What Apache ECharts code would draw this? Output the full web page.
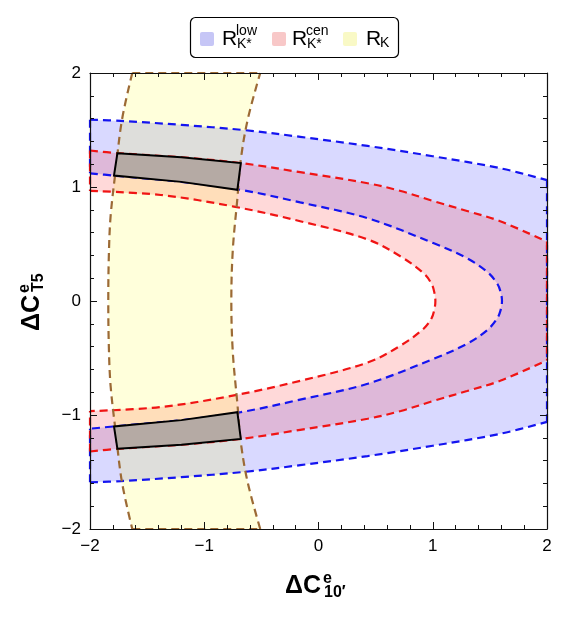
<!DOCTYPE html>
<html>
<head>
<meta charset="utf-8">
<script src="https://cdn.jsdelivr.net/npm/echarts/dist/echarts.min.js"></script>
<style>
  html, body { margin: 0; padding: 0; background: #fff; }
  #main { width: 571px; height: 617px; }
</style>
</head>
<body>
<div id="main"></div>
<script>
// 坐标轴刻度
var axisTicks = [-2, -1, 0, 1, 2];

// R_K*^low 边界 (蓝)
var blueOuterUpper = [[-2, 1.59], [-1.73, 1.58], [-1.2, 1.545], [-0.66, 1.50], [-0.16, 1.44], [0.43, 1.36], [1.0, 1.27], [1.59, 1.165], [2, 1.06]];
var blueOuterLower = [[-2, -1.59], [-1.73, -1.58], [-1.2, -1.545], [-0.66, -1.50], [-0.16, -1.44], [0.43, -1.36], [1.0, -1.27], [1.59, -1.165], [2, -1.06]];
var blueInnerUpper = [[-2, 1.12], [-1.79, 1.10], [-1.2, 1.045], [-0.68, 0.975], [-0.16, 0.865], [0.43, 0.726], [1.01, 0.506], [1.30, 0.375], [1.475, 0.257], [1.563, 0.155], [1.594, 0.08], [1.606, 0]];
var blueInnerLower = [[-2, -1.12], [-1.79, -1.10], [-1.2, -1.045], [-0.68, -0.975], [-0.16, -0.865], [0.43, -0.726], [1.01, -0.506], [1.30, -0.375], [1.475, -0.257], [1.563, -0.155], [1.594, -0.08], [1.606, 0]];

// R_K*^cen 边界 (红)
var redOuterUpper = [[-2, 1.32], [-1.76, 1.297], [-1.2, 1.26], [-0.68, 1.21], [-0.16, 1.13], [0.43, 1.033], [0.72, 0.965], [1.01, 0.875], [1.30, 0.79], [1.59, 0.70], [2, 0.52]];
var redOuterLower = [[-2, -1.32], [-1.76, -1.297], [-1.2, -1.26], [-0.68, -1.21], [-0.16, -1.13], [0.43, -1.033], [0.72, -0.965], [1.01, -0.875], [1.30, -0.79], [1.59, -0.70], [2, -0.52]];
var redInnerUpper = [[-2, 0.966], [-1.38, 0.93], [-0.74, 0.828], [-0.16, 0.70], [0.43, 0.54], [0.72, 0.39], [0.92, 0.243], [0.99, 0.15], [1.015, 0.07], [1.023, 0]];
var redInnerLower = [[-2, -0.966], [-1.38, -0.93], [-0.74, -0.828], [-0.16, -0.70], [0.43, -0.54], [0.72, -0.39], [0.92, -0.243], [0.99, -0.15], [1.015, -0.07], [1.023, 0]];

// R_K 边界 (棕)
var brownLeft = [[-1.63, 2], [-1.72, 1.59], [-1.775, 1.15], [-1.82, 0.74], [-1.835, 0.4], [-1.84, 0], [-1.835, -0.4], [-1.82, -0.74], [-1.775, -1.15], [-1.72, -1.59], [-1.63, -2]];
var brownRight = [[-0.51, -2], [-0.62, -1.59], [-0.68, -1.24], [-0.71, -0.9], [-0.75, -0.45], [-0.763, 0], [-0.75, 0.45], [-0.71, 0.9], [-0.68, 1.24], [-0.62, 1.59], [-0.51, 2]];

// 三者重叠区域
var overlapUpper = [[-1.76, 1.297], [-1.2, 1.26], [-0.68, 1.21], [-0.71, 0.975], [-1.2, 1.045], [-1.79, 1.10]];
var overlapLower = [[-1.76, -1.297], [-1.2, -1.26], [-0.68, -1.21], [-0.71, -0.975], [-1.2, -1.045], [-1.79, -1.10]];

function rev(arr) { return arr.slice().reverse(); }
function first(arr) { return arr[0]; }
function last(arr) { return arr[arr.length - 1]; }

var blueBand = blueOuterUpper.concat(rev(blueOuterLower), blueInnerLower, rev(blueInnerUpper));
var redBand = redOuterUpper.concat(rev(redOuterLower), redInnerLower, rev(redInnerUpper));
var yellowBand = brownLeft.concat(brownRight);

var BLUE = '#1414f0';
var RED = '#f01414';
var BROWN = '#9c6a35';
var DASH = [8, 5];

// 填充区域
function polySeries(points, fill, stroke, z) {
  return {
    type: 'custom',
    coordinateSystem: 'cartesian2d',
    silent: true,
    z: z,
    data: [[0, 0]],
    renderItem: function (params, api) {
      return {
        type: 'polygon',
        shape: { points: points.map(function (p) { return api.coord(p); }) },
        style: { fill: fill, stroke: stroke, lineWidth: stroke ? 2 : 0 }
      };
    }
  };
}

// 虚线边界
function dashLine(points, color, smooth) {
  return {
    type: 'line',
    data: points,
    z: 6,
    silent: true,
    showSymbol: false,
    smooth: smooth ? 0.35 : false,
    lineStyle: { color: color, width: 2.2, type: DASH }
  };
}

function tickText(v) {
  return v < 0 ? '\u2212' + Math.abs(v) : String(v);
}

var FONT = '"Liberation Sans", Arial, sans-serif';

function axisCfg(pos, showLabel) {
  return {
    type: 'value',
    position: pos,
    min: axisTicks[0],
    max: axisTicks[axisTicks.length - 1],
    interval: axisTicks[1] - axisTicks[0],
    z: 10,
    axisLine: { show: true, onZero: false, lineStyle: { color: '#111', width: 1.2 } },
    axisTick: { show: true, inside: true, length: 7, lineStyle: { color: '#111', width: 1 } },
    minorTick: { show: true, splitNumber: 5, length: 4, lineStyle: { color: '#111', width: 1 } },
    splitLine: { show: false },
    axisLabel: {
      show: showLabel,
      fontSize: 17,
      color: '#000',
      fontFamily: FONT,
      margin: 9,
      formatter: tickText
    }
  };
}

// 带上下标的标签
function scriptLabel(x, y, rot, main, sup, sub, opt) {
  return {
    type: 'group',
    x: x,
    y: y,
    rotation: rot,
    children: [
      { type: 'text', x: 0, y: 0, style: { text: main, font: opt.mainFont, fill: '#000', verticalAlign: 'middle' } },
      { type: 'text', x: opt.supX, y: opt.supY, style: { text: sup, font: opt.smallFont, fill: '#000', verticalAlign: 'middle' } },
      { type: 'text', x: opt.subX, y: opt.subY, style: { text: sub, font: opt.smallFont, fill: '#000', verticalAlign: 'middle' } }
    ]
  };
}

var titleOpt = { mainFont: 'bold 25px ' + FONT, smallFont: 'bold 16px ' + FONT, supX: 38, supY: -7, subX: 39, subY: 7 };
var legOpt = { mainFont: '21px ' + FONT, smallFont: '14px ' + FONT, supX: 14, supY: -8, subX: 15, subY: 5 };

var chartDom = document.getElementById('main');
var myChart = echarts.init(chartDom);
var option;

option = {
  animation: false,
  backgroundColor: '#fff',
  grid: { left: 90, right: 24, top: 73, bottom: 88 },
  xAxis: [axisCfg('bottom', true), axisCfg('top', false)],
  yAxis: [axisCfg('left', true), axisCfg('right', false)],
  graphic: [
    // 图例
    { type: 'rect', shape: { x: 190.5, y: 17.5, width: 208, height: 40, r: 5 }, style: { fill: '#fff', stroke: '#000', lineWidth: 1.2 } },
    { type: 'rect', shape: { x: 200, y: 32, width: 14, height: 14, r: 2 }, style: { fill: '#c6c6f6' } },
    scriptLabel(222, 39, 0, 'R', 'low', 'K*', legOpt),
    { type: 'rect', shape: { x: 272, y: 32, width: 14, height: 14, r: 2 }, style: { fill: '#f8c8c8' } },
    scriptLabel(292, 39, 0, 'R', 'cen', 'K*', legOpt),
    { type: 'rect', shape: { x: 343, y: 32, width: 14, height: 14, r: 2 }, style: { fill: '#f9f9c6' } },
    { type: 'text', x: 366, y: 39, style: { text: 'R', font: '21px ' + FONT, fill: '#000', verticalAlign: 'middle' } },
    { type: 'text', x: 380, y: 43, style: { text: 'K', font: '14px ' + FONT, fill: '#000', verticalAlign: 'middle' } },
    // 坐标轴标题
    scriptLabel(285, 586, 0, '\u0394C', 'e', '10\u2032', titleOpt),
    scriptLabel(32, 331, Math.PI / 2, '\u0394C', 'e', 'T5', titleOpt)
  ],
  series: [
    polySeries(blueBand, 'rgba(0,0,255,0.15)', null, 2),
    polySeries(redBand, 'rgba(255,0,0,0.15)', null, 3),
    polySeries(yellowBand, 'rgba(255,255,0,0.14)', null, 4),
    // 蓝
    dashLine(blueOuterUpper, BLUE, true),
    dashLine(blueOuterLower, BLUE, true),
    dashLine(blueInnerUpper.concat(rev(blueInnerLower)), BLUE, true),
    dashLine([first(blueOuterUpper), first(blueInnerUpper)], BLUE, false),
    dashLine([first(blueOuterLower), first(blueInnerLower)], BLUE, false),
    dashLine([last(blueOuterUpper), last(blueOuterLower)], BLUE, false),
    // 红
    dashLine(redOuterUpper, RED, true),
    dashLine(redOuterLower, RED, true),
    dashLine(redInnerUpper.concat(rev(redInnerLower)), RED, true),
    dashLine([first(redOuterUpper), first(redInnerUpper)], RED, false),
    dashLine([first(redOuterLower), first(redInnerLower)], RED, false),
    dashLine([last(redOuterUpper), last(redOuterLower)], RED, false),
    // 棕
    dashLine(brownLeft, BROWN, true),
    dashLine(brownRight, BROWN, true),
    dashLine([first(brownLeft), last(brownRight)], BROWN, false),
    dashLine([last(brownLeft), first(brownRight)], BROWN, false),
    // 重叠区
    polySeries(overlapUpper, '#b5aaa4', '#000', 8),
    polySeries(overlapLower, '#b5aaa4', '#000', 8)
  ]
};

option && myChart.setOption(option);
</script>
</body>
</html>
